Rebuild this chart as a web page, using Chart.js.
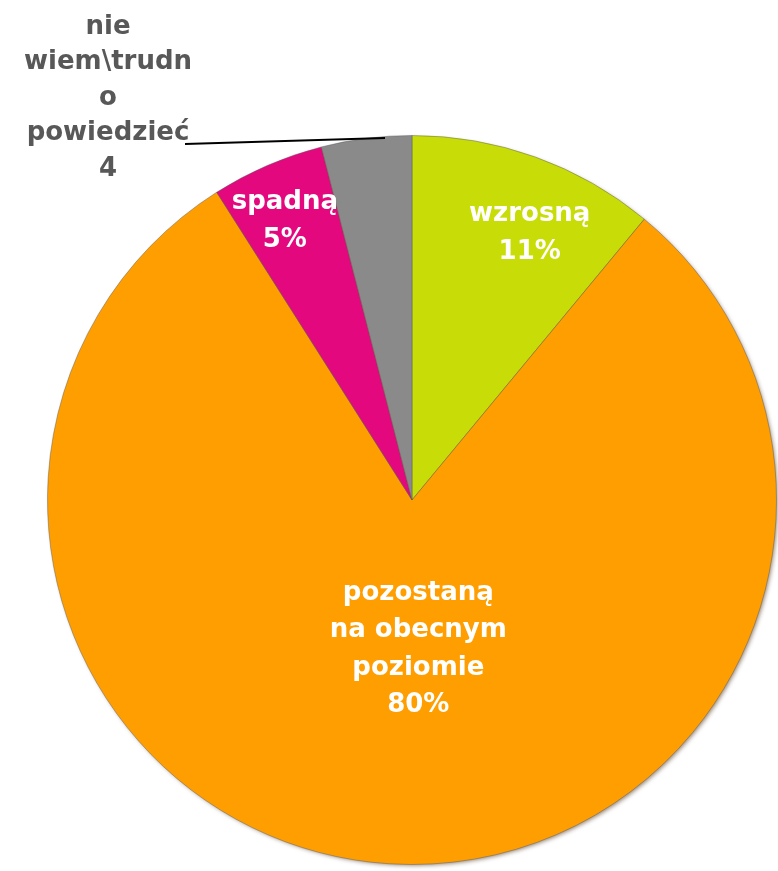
<!DOCTYPE html>
<html>
<head>
<meta charset="utf-8">
<script src="https://cdn.jsdelivr.net/npm/chart.js@4/dist/chart.umd.min.js"></script>
<style>
html,body{margin:0;padding:0;background:#fff;}
#wrap{width:778px;height:871px;position:relative;}
</style>
</head>
<body>
<div id="wrap"><canvas id="c" width="778" height="871"></canvas></div>
<script>
const categories = ['wzrosną', 'pozostaną na obecnym poziomie', 'spadną', 'nie wiem\\trudno powiedzieć'];
const values = [11, 80, 5, 4];
const labelLines = [
  ['wzrosną', '11%'],
  ['pozostaną', 'na obecnym', 'poziomie', '80%'],
  ['spadną', '5%'],
  ['nie', 'wiem\\trudn', 'o', 'powiedzieć', '4']
];
const colors = ['#C8DC08', '#FF9E00', '#E4087E', '#8A8A8A'];

const shadowPlugin = {
  id: 'pieShadow',
  beforeDatasetsDraw(chart) {
    const arc = chart.getDatasetMeta(0).data[0];
    if (!arc) return;
    const ctx = chart.ctx;
    ctx.save();
    ctx.shadowColor = 'rgba(60,30,0,0.55)';
    ctx.shadowBlur = 4;
    ctx.shadowOffsetX = 2;
    ctx.shadowOffsetY = 2;
    ctx.fillStyle = '#FF9E00';
    ctx.beginPath();
    ctx.arc(arc.x, arc.y, arc.outerRadius - 1, 0, Math.PI * 2);
    ctx.fill();
    ctx.restore();
  }
};

const labelPlugin = {
  id: 'sliceLabels',
  afterDatasetsDraw(chart) {
    const ctx = chart.ctx;
    const meta = chart.getDatasetMeta(0);
    const lineH = 37.5;
    ctx.save();
    ctx.font = 'bold 26px "DejaVu Sans", Verdana, sans-serif';
    ctx.textAlign = 'center';
    ctx.textBaseline = 'middle';
    // inside labels: [index, radius fraction, angle offset (rad)]
    const inside = [[0, 0.80, 0.07], [1, 0.41, -0.105], [2, 0.84, -0.02]];
    inside.forEach(([i, f, off]) => {
      const arc = meta.data[i];
      const mid = (arc.startAngle + arc.endAngle) / 2 + off;
      const r = arc.outerRadius * f;
      const x = arc.x + Math.cos(mid) * r;
      const y = arc.y + Math.sin(mid) * r;
      const lines = labelLines[i];
      const y0 = y - (lines.length - 1) * lineH / 2;
      ctx.fillStyle = '#ffffff';
      lines.forEach((t, k) => ctx.fillText(t, x, y0 + k * lineH));
    });
    // outside label for last slice
    const lines = labelLines[3];
    ctx.fillStyle = '#585858';
    const ox = 108, oy = 27, oh = 35.5;
    lines.forEach((t, k) => ctx.fillText(t, ox, oy + k * oh));
    // leader line
    ctx.strokeStyle = '#000';
    ctx.lineWidth = 2;
    ctx.beginPath();
    ctx.moveTo(185, 144);
    ctx.lineTo(385, 138);
    ctx.stroke();
    ctx.restore();
  }
};

new Chart(document.getElementById('c'), {
  type: 'pie',
  data: {
    labels: categories,
    datasets: [{
      data: values,
      backgroundColor: colors,
      borderColor: 'rgba(90,90,90,0.45)',
      borderWidth: 1
    }]
  },
  options: {
    responsive: false,
    animation: false,
    layout: { padding: { left: 47, right: 1, top: 135, bottom: 6 } },
    plugins: { legend: { display: false }, tooltip: { enabled: false } }
  },
  plugins: [shadowPlugin, labelPlugin]
});
</script>
</body>
</html>
